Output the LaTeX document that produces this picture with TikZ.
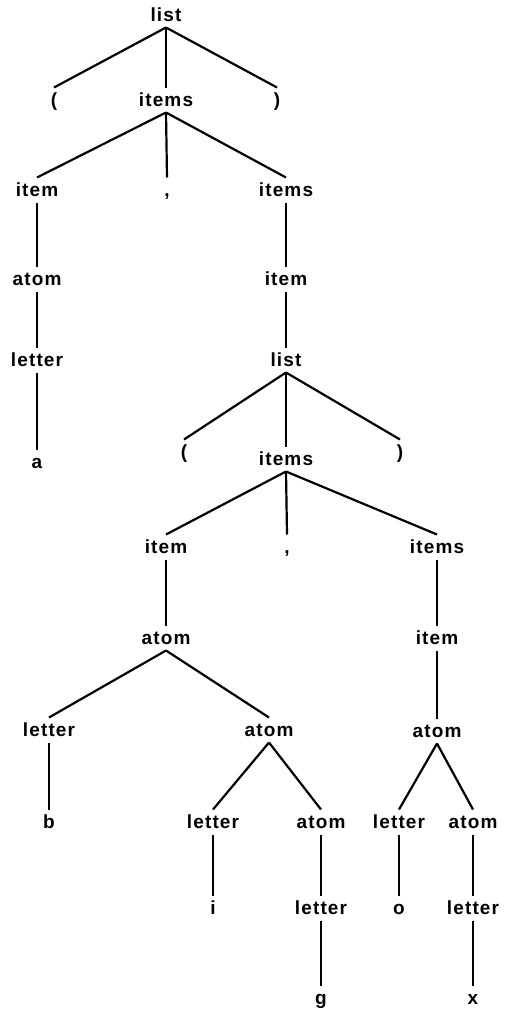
\documentclass[tikz,border=0pt]{standalone}
\usepackage{fontspec}
\setmainfont[LetterSpace=6]{Liberation Sans}
\begin{document}
\begin{tikzpicture}[x=1pt,y=-1pt,
  tn/.style={font=\fontsize{19}{21}\selectfont\bfseries, text height=13pt, text depth=0pt, inner sep=1pt, outer sep=5pt, anchor=center},
  br/.style={line width=2.2pt}]
\useasboundingbox (0,0) rectangle (505,1012);
% level nodes
\node[tn] (list1) at (166,15) {list};
\node[tn] (lp1) at (54,100) {(};
\node[tn] (items1) at (166,100) {items};
\node[tn] (rp1) at (277,100) {)};
\node[tn] (item1) at (37,190) {item};
\node[tn] (comma1) at (167,190) {,};
\node[tn] (items2) at (286,190) {items};
\node[tn] (atom1) at (37,279) {atom};
\node[tn] (letter1) at (37,360) {letter};
\node[tn] (a) at (37,462) {a};
\node[tn] (item2) at (286,279) {item};
\node[tn] (list2) at (286,360) {list};
\node[tn] (lp2) at (184,452) {(};
\node[tn] (items3) at (286,459) {items};
\node[tn] (rp2) at (400,452) {)};
\node[tn] (item3) at (166,547) {item};
\node[tn] (comma2) at (287,547) {,};
\node[tn] (items4) at (437,547) {items};
\node[tn] (atom2) at (166,638) {atom};
\node[tn] (item4) at (437,638) {item};
\node[tn] (letter2) at (49,730) {letter};
\node[tn] (atom3) at (269,730) {atom};
\node[tn] (atom4) at (437,731) {atom};
\node[tn] (b) at (49,822) {b};
\node[tn] (letter3) at (213,822) {letter};
\node[tn] (atom5) at (321,822) {atom};
\node[tn] (letter4) at (399,822) {letter};
\node[tn] (atom6) at (473,822) {atom};
\node[tn] (i) at (213,908) {i};
\node[tn] (letter5) at (321,908) {letter};
\node[tn] (o) at (399,908) {o};
\node[tn] (letter6) at (473,908) {letter};
\node[tn] (g) at (321,998) {g};
\node[tn] (x) at (473,998) {x};
% connectors
\foreach \p/\c in {list1/lp1, list1/items1, list1/rp1,
  items1/item1, items1/comma1, items1/items2,
  item1/atom1, atom1/letter1, letter1/a,
  items2/item2, item2/list2,
  list2/lp2, list2/items3, list2/rp2,
  items3/item3, items3/comma2, items3/items4,
  item3/atom2, items4/item4, item4/atom4,
  atom2/letter2, atom2/atom3, letter2/b,
  atom3/letter3, atom3/atom5, letter3/i, atom5/letter5, letter5/g,
  atom4/letter4, atom4/atom6, letter4/o, atom6/letter6, letter6/x}
  \draw[br] (\p.south) -- (\c.north);
\end{tikzpicture}
\end{document}
